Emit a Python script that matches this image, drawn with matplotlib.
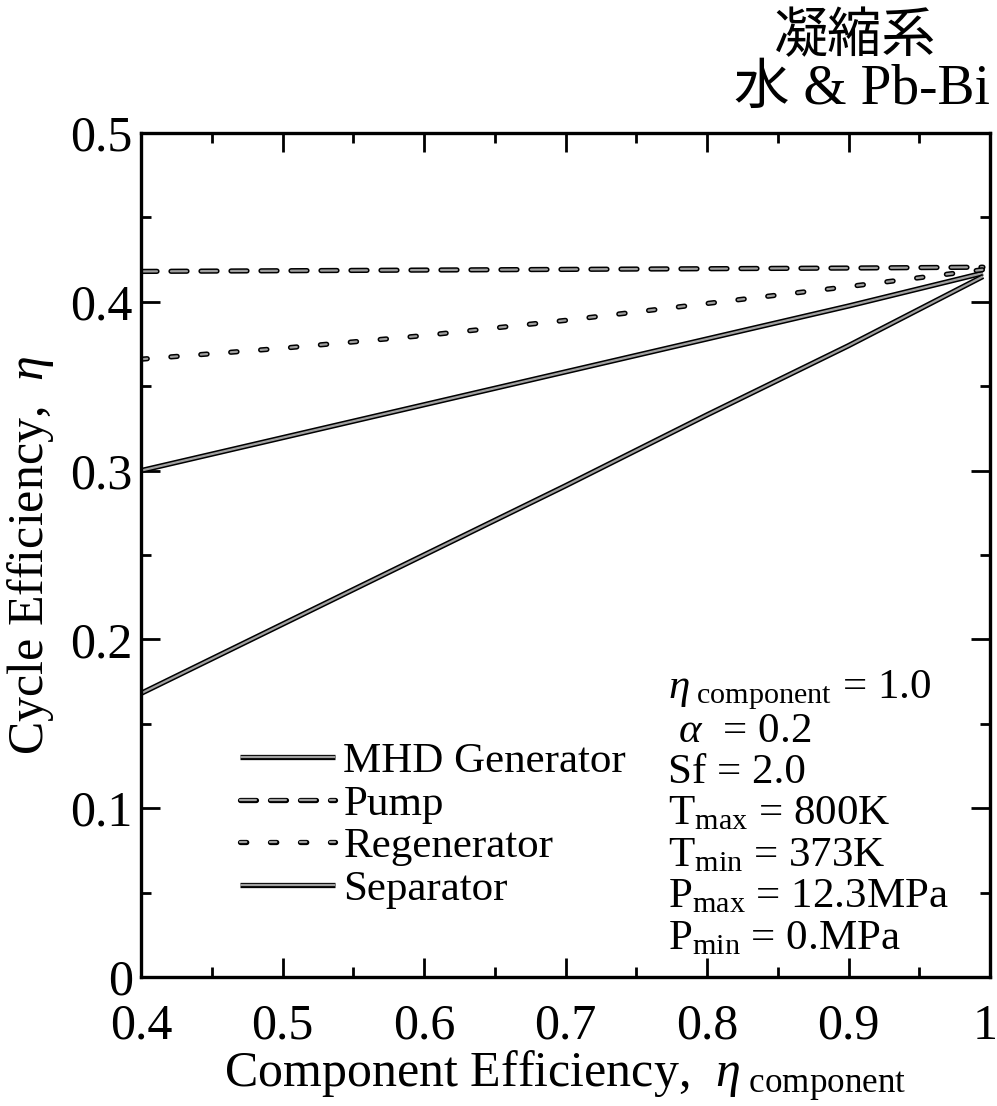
import matplotlib
matplotlib.use("Agg")
import matplotlib.pyplot as plt
import matplotlib.patheffects as pe
import matplotlib.transforms as mtransforms
from matplotlib.ticker import MultipleLocator

plt.rcParams["font.family"] = ["Liberation Serif", "Noto Sans CJK JP"]
plt.rcParams["mathtext.fontset"] = "custom"
plt.rcParams["mathtext.rm"] = "Liberation Serif"
plt.rcParams["mathtext.it"] = "Liberation Serif:italic"
plt.rcParams["lines.scale_dashes"] = False

# Component efficiency (x) and resulting cycle efficiency for each component
eta_component = [0.4, 0.5, 0.6, 0.7, 0.8, 0.9, 0.995]
mhd_generator = [0.300, 0.3195, 0.339, 0.3585, 0.378, 0.3975, 0.417]
pump = [0.418, 0.4184, 0.4188, 0.4192, 0.4196, 0.4200, 0.4205]
regenerator = [0.366, 0.3725, 0.380, 0.389, 0.399, 0.409, 0.419]
separator = [0.168, 0.209, 0.250, 0.291, 0.333, 0.374, 0.415]

series_labels = ["MHD Generator", "Pump", "Regenerator", "Separator"]

x_ticks = [0.4, 0.5, 0.6, 0.7, 0.8, 0.9, 1.0]
x_tick_labels = ["0.4", "0.5", "0.6", "0.7", "0.8", "0.9", "1"]
y_ticks = [0, 0.1, 0.2, 0.3, 0.4, 0.5]
y_tick_labels = ["0", "0.1", "0.2", "0.3", "0.4", "0.5"]

conditions = [
    r"$\eta_{\ \mathrm{component}}$ = 1.0",
    r" $\alpha$  = 0.2",
    "Sf = 2.0",
    r"T$_{\mathrm{max}}$ = 800K",
    r"T$_{\mathrm{min}}$ = 373K",
    r"P$_{\mathrm{max}}$ = 12.3MPa",
    r"P$_{\mathrm{min}}$ = 0.MPa",
]

fig = plt.figure(figsize=(9.97, 11.06), dpi=100)
ax = fig.add_axes([141 / 997, 1 - 977 / 1106, 849 / 997, 844 / 1106])

outline = [pe.Stroke(linewidth=3.8, foreground="black"), pe.Normal()]
style = dict(color="#a0a0a0", linewidth=1.6, path_effects=outline)

ax.plot(eta_component, mhd_generator, linestyle="-", label=series_labels[0],
        solid_capstyle="butt", **style)
ax.plot(eta_component, pump, linestyle=(0, (11.5, 10.1)), label=series_labels[1],
        dash_capstyle="round", **style)
ax.plot(eta_component, regenerator, linestyle=(0, (4.5, 17.1)), label=series_labels[2],
        dash_capstyle="round", **style)
ax.plot(eta_component, separator, linestyle="-", label=series_labels[3],
        solid_capstyle="butt", **style)

ax.set_xlim(0.4, 1.0)
ax.set_ylim(0, 0.5)
ax.set_xticks(x_ticks)
ax.set_xticklabels(x_tick_labels)
ax.set_yticks(y_ticks)
ax.set_yticklabels(y_tick_labels)
ax.xaxis.set_minor_locator(MultipleLocator(0.05))
ax.yaxis.set_minor_locator(MultipleLocator(0.05))
ax.tick_params(which="both", direction="in", top=True, right=True, width=2)
ax.tick_params(which="major", length=14, labelsize=36)
ax.tick_params(axis="x", which="major", pad=19)
ax.tick_params(axis="y", which="major", pad=6)
ax.tick_params(which="minor", length=7)
for spine in ax.spines.values():
    spine.set_linewidth(2.4)

# keep the last x tick label inside the figure edge
last_label = ax.get_xticklabels()[-1]
last_label.set_transform(last_label.get_transform()
                         + mtransforms.ScaledTranslation(-5 / 100, 0, fig.dpi_scale_trans))

ax.set_xlabel(r"Component Efficiency,  $\eta_{\ \mathrm{component}}$", fontsize=36, labelpad=-1)
ax.set_ylabel(r"Cycle Efficiency,  $\eta$", fontsize=36, labelpad=10)

leg = ax.legend(loc="upper left", bbox_to_anchor=(240 / 997, 1 - 742 / 1106),
                bbox_transform=fig.transFigure, frameon=False, fontsize=31,
                handlelength=2.2, handletextpad=0.2, labelspacing=0.08,
                borderpad=0, borderaxespad=0)

for i, line in enumerate(conditions):
    fig.text(668 / 997, 1 - (690 + 41.5 * i) / 1106, line, fontsize=31,
             ha="left", va="center")

fig.text(855 / 997, 1 - 39 / 1106, "凝縮系", fontsize=39, ha="center", va="center")
fig.text(990 / 997, 1 - 90 / 1106, "水 & Pb-Bi", fontsize=40, ha="right", va="center")

fig.savefig("out.png", dpi=100)
